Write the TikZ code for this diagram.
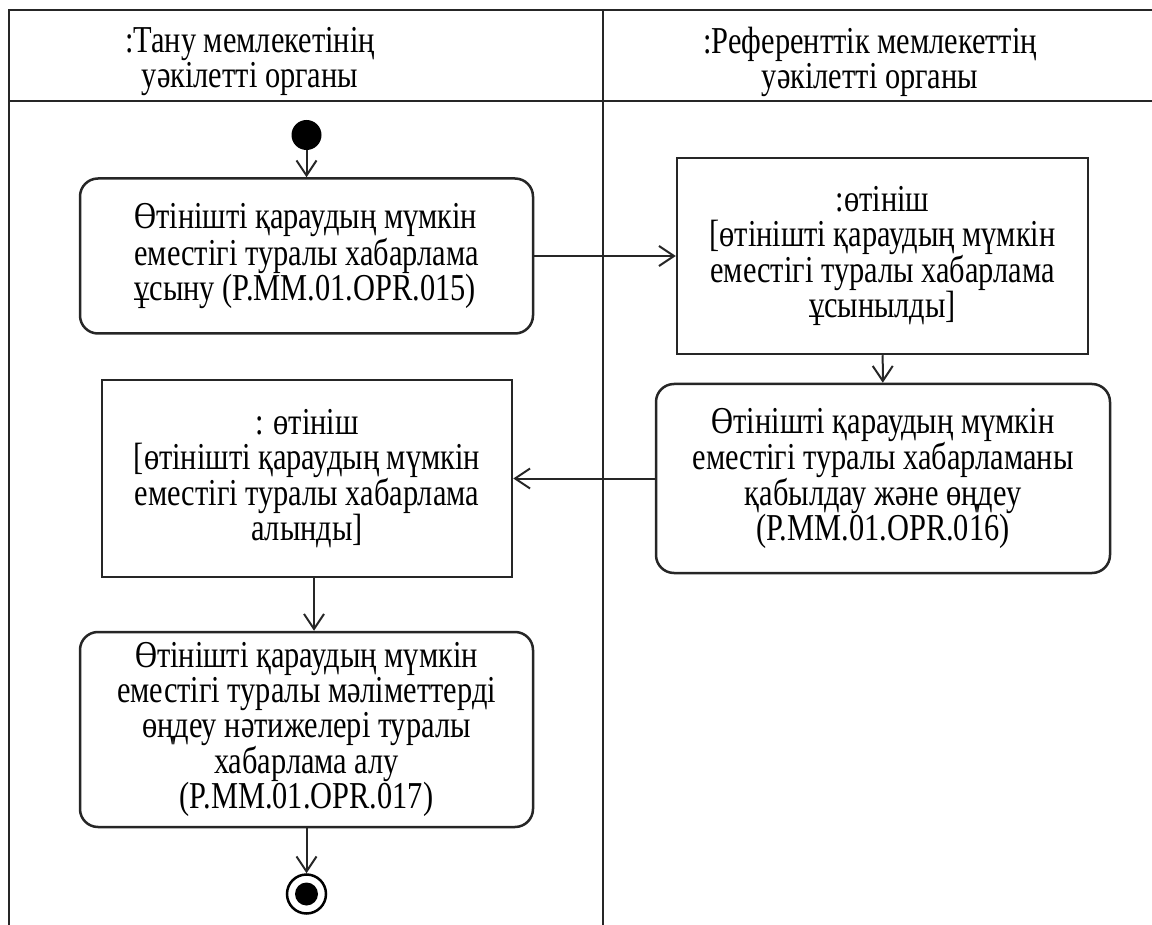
\documentclass[tikz,border=0pt]{standalone}
\usepackage{fontspec}
\setmainfont{Liberation Serif}[FakeStretch=0.8]
\usetikzlibrary{arrows.meta}

\def\lw{2.5pt}
\def\txt{\fontsize{38pt}{35pt}\selectfont}

\tikzset{
    lane/.style={line width=\lw,black!85},
    action/.style={draw=black!85,line width=\lw,rounded corners=18pt,inner sep=0pt,font=\txt},
    objbox/.style={draw=black!85,line width=\lw,inner sep=0pt,font=\txt},
    flow/.style={line width=2pt,black!85,-{Straight Barb[length=15pt,width=20pt]}},
}

\begin{document}
\begin{tikzpicture}[x=1pt,y=-1pt]
    \useasboundingbox (0,0) rectangle (1152,925);
    % swimlanes
    \draw[lane] (1152,10) -- (9,10) -- (9,925);
    \draw[lane] (9,101) -- (1152,101);
    \draw[lane] (603,10) -- (603,925);
    \node[align=center,font=\txt] (laneA) at (250,62) {:Тану мемлекетінің\\уәкілетті органы};
    \node[align=center,font=\txt] (laneB) at (870,62) {:Референттік мемлекеттің\\уәкілетті органы};

    % nodes
    \node[circle,fill=black,inner sep=0pt,minimum size=30pt] (start) at (306.5,135) {};
    \node[action,align=left,minimum width=453pt,minimum height=155pt] (act1) at (306.5,256) {Өтінішті қараудың мүмкін\\еместігі туралы хабарлама\\ұсыну (P.MM.01.OPR.015)};
    \node[objbox,align=center,minimum width=411pt,minimum height=196pt] (obj1) at (882.5,256) {:өтініш\\{[өтінішті қараудың мүмкін}\\еместігі туралы хабарлама\\ұсынылды]};
    \node[action,align=center,minimum width=454pt,minimum height=189pt] (act2) at (883,478.5) {Өтінішті қараудың мүмкін\\еместігі туралы хабарламаны\\қабылдау және өңдеу\\(P.MM.01.OPR.016)};
    \node[objbox,align=center,minimum width=410pt,minimum height=197pt] (obj2) at (307,478.5) {: өтініш\\{[өтінішті қараудың мүмкін}\\еместігі туралы хабарлама\\алынды]};
    \node[action,align=center,minimum width=453pt,minimum height=195pt] (act3) at (306.5,729.5) {Өтінішті қараудың мүмкін\\еместігі туралы мәліметтерді\\өңдеу нәтижелері туралы\\хабарлама алу\\(P.MM.01.OPR.017)};
    \node[circle,draw=black,line width=\lw,inner sep=0pt,minimum size=39pt] (finish) at (306.5,894) {};
    \fill (finish) circle (11.5pt);

    % flows
    \draw[flow] (start) -- (act1);
    \draw[flow] (act1) -- (obj1);
    \draw[flow] (obj1) -- (act2);
    \draw[flow] (act2) -- (obj2);
    \draw[flow] ([xshift=7pt]obj2.south) -- ([xshift=7pt]obj2.south |- act3.north);
    \draw[flow] (act3) -- (finish);
\end{tikzpicture}
\end{document}
